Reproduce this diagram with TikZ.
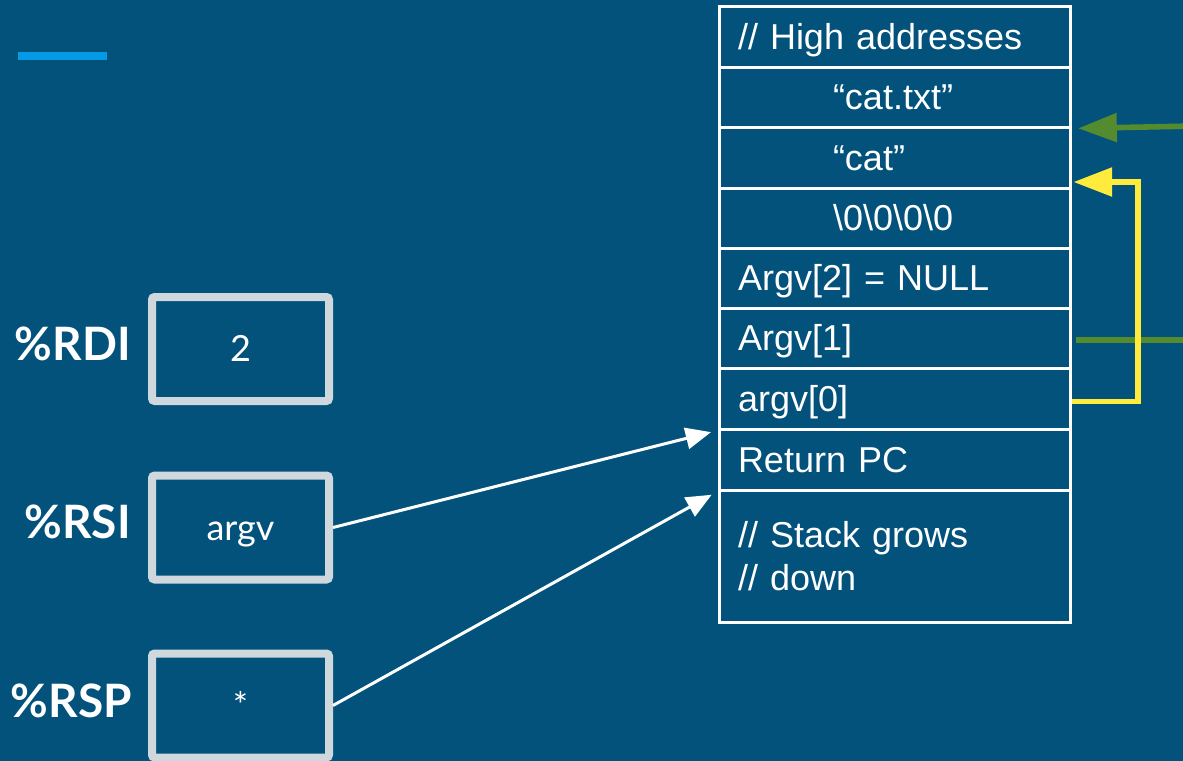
\documentclass[tikz,border=0pt]{standalone}
\usepackage{fontspec}
\setmainfont{Liberation Sans}
\newfontfamily\lato{Lato}
\usetikzlibrary{arrows.meta,calc}
\definecolor{bg}{HTML}{02527C}
\definecolor{accent}{HTML}{039BE5}
\definecolor{regbox}{HTML}{CFD8DC}
\definecolor{ptrgreen}{HTML}{558B2F}
\definecolor{ptryellow}{HTML}{FFEB3B}
\begin{document}
\begin{tikzpicture}[x=0.75pt,y=-0.75pt,
  row/.style={draw=white, line width=2.25pt, minimum width=263.25pt, text width=234.75pt,
    inner xsep=14.25pt, inner ysep=0pt, align=left, text=white,
    font=\fontsize{27}{32.4}\selectfont},
  oneline/.style={text height=19.3pt, text depth=0pt},
  reg/.style={draw=regbox, line width=6pt, rounded corners=2pt, minimum width=132.75pt,
    minimum height=78pt, text=white, font=\lato\fontsize{27}{32}\selectfont, inner sep=0pt,
    text height=19.4pt, text depth=0pt},
  reglabel/.style={anchor=base east, text=white, inner sep=0pt,
    font=\lato\bfseries\fontsize{34.5}{40}\selectfont},
  ptr/.style={draw=white, line width=2.25pt, -{Triangle[length=19pt,width=16pt]}},
  gptr/.style={draw=ptrgreen, line width=4.2pt},
  yptr/.style={draw=ptryellow, line width=4.2pt},
  headbig/.style={-{Triangle[length=29pt,width=21pt]}}
]
\fill[bg] (0,0) rectangle (1183,761);
\useasboundingbox (0,0) rectangle (1183,761);
\fill[accent] (18,52) rectangle (107,60);

% stack
\node[row, oneline, minimum height=45.75pt] (r1) at (894.5,36.5) {// High addresses};
\node[row, oneline, minimum height=45pt] (r2) at (894.5,97) {\hspace*{71.25pt}“cat.txt”};
\node[row, oneline, minimum height=45.75pt] (r3) at (894.5,157.5) {\hspace*{71.25pt}“cat”};
\node[row, oneline, minimum height=45pt] (r4) at (894.5,218) {\hspace*{71.25pt}\textbackslash 0\textbackslash 0\textbackslash 0\textbackslash 0};
\node[row, oneline, minimum height=45pt] (r5) at (894.5,278) {Argv[2] = NULL};
\node[row, oneline, minimum height=45pt] (r6) at (894.5,338) {Argv[1]};
\node[row, oneline, minimum height=45.75pt] (r7) at (894.5,398.5) {argv[0]};
\node[row, oneline, minimum height=45.75pt] (r8) at (894.5,459.5) {Return PC};
\node[row, minimum height=99pt] (r9) at (894.5,556) {// Stack grows\\// down};

% registers
\node[reg] (rdi) at (240.5,349) {2};
\node[reg] (rsi) at (240.5,527.5) {argv};
\node[reg] (rsp) at (240.5,705.5) {*};
\node[reglabel] (lrdi) at (131,360) {\%RDI};
\node[reglabel] (lrsi) at (131,538) {\%RSI};
\node[reglabel] (lrsp) at (132,717) {\%RSP};

% pointers
\draw[ptr, shorten >=5pt] (rsi.east) -- (r7.south west);
\draw[ptr, shorten >=5pt] (rsp.east) -- (r8.south west);

\coordinate (gin) at (1195,126);
\coordinate (gout) at (1195,340);
\coordinate (ycorner) at (1138,182);

\draw[gptr, headbig, shorten >=5pt] (gin) -- (r2.south east);
\draw[gptr, shorten <=3pt] (r6.east |- gout) -- (gout);
\draw[yptr, headbig, shorten >=1.5pt, line join=miter]
  ($(r7.east)+(0,3)$) -| (ycorner) -- (r3.east |- ycorner);
\end{tikzpicture}
\end{document}
